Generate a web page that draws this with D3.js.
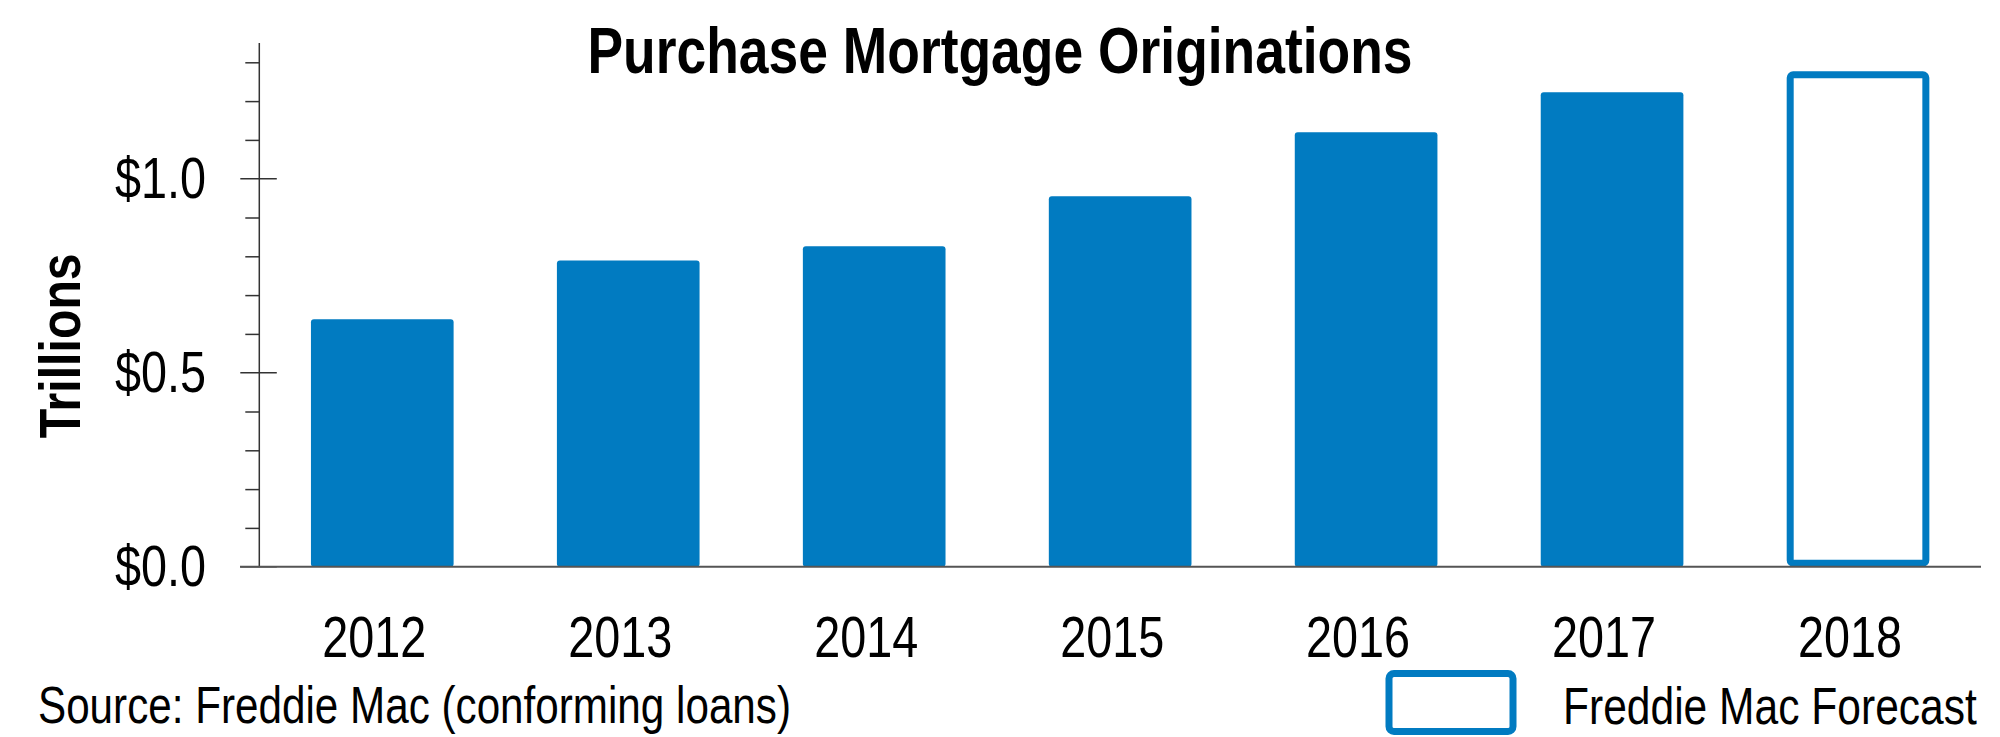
<!DOCTYPE html>
<html>
<head>
<meta charset="utf-8">
<script src="https://cdn.jsdelivr.net/npm/d3@7"></script>
<style>
  html, body { margin: 0; padding: 0; background: #fff; }
  svg { display: block; }
  text { font-family: "Liberation Sans Narrow", "Arial Narrow", "Liberation Sans", Arial, sans-serif; fill: #000; }
</style>
</head>
<body>
<svg id="chart" width="2000" height="737"></svg>
<script>
// ---- data ----
const years = ["2012", "2013", "2014", "2015", "2016", "2017", "2018"];
const values = [0.638, 0.789, 0.826, 0.955, 1.12, 1.223, 1.277];
const forecast = [false, false, false, false, false, false, true];
const minorTicks = [0.1, 0.2, 0.3, 0.4, 0.6, 0.7, 0.8, 0.9, 1.1, 1.2, 1.3];
const majorTicks = [0, 0.5, 1.0];
const majorLabels = ["$0.0", "$0.5", "$1.0"];
const title = "Purchase Mortgage Originations";
const yTitle = "Trillions";
const source = "Source: Freddie Mac (conforming loans)";
const legendLabel = "Freddie Mac Forecast";

const blue = "#017bc1";
const svg = d3.select("#chart");

function fitWidth(sel, w) {
  sel.attr("textLength", w).attr("lengthAdjust", "spacingAndGlyphs");
}

const x = d3.scaleBand().domain(years).range([259.3, 1981]).paddingInner(0.42).paddingOuter(0.21);
const y = d3.scaleLinear().domain([0, 1.35]).range([566.7, 42.9]);
const axisX = 259.3;

// bars
const data = years.map((yr, i) => ({ yr, v: values[i], f: forecast[i] }));
const sw = 7;
svg.append("g").selectAll("rect").data(data).join("rect")
  .attr("x", d => d.f ? x(d.yr) + sw / 2 : x(d.yr))
  .attr("width", d => d.f ? x.bandwidth() - sw : x.bandwidth())
  .attr("y", d => d.f ? y(d.v) + sw / 2 : y(d.v))
  .attr("height", d => d.f ? y(0) - y(d.v) - sw : y(0) - y(d.v))
  .attr("rx", 3)
  .attr("fill", d => d.f ? "#fff" : blue)
  .attr("stroke", d => d.f ? blue : "none")
  .attr("stroke-width", sw);

// y axis (minor ticks)
const minorAxis = d3.axisLeft(y).tickValues(minorTicks).tickSize(14).tickFormat("");
const gy = svg.append("g").attr("transform", `translate(${axisX},0)`).call(minorAxis);
gy.select(".domain").remove();
gy.selectAll(".tick line").attr("stroke", "#333").attr("stroke-width", 1.5);

// vertical axis line
svg.append("line")
  .attr("x1", axisX).attr("x2", axisX)
  .attr("y1", y(1.35)).attr("y2", y(0))
  .attr("stroke", "#333").attr("stroke-width", 1.5);

// major ticks (cross axis)
const gm = svg.append("g");
gm.selectAll("line").data(majorTicks).join("line")
  .attr("x1", axisX - 19).attr("x2", axisX + 17.5)
  .attr("y1", d => y(d)).attr("y2", d => y(d))
  .attr("stroke", "#333").attr("stroke-width", 1.5);
gm.selectAll("text").data(majorTicks).join("text")
  .attr("x", 206).attr("y", d => y(d) + 19)
  .attr("text-anchor", "end")
  .attr("font-size", 57)
  .text((d, i) => majorLabels[i])
  .call(fitWidth, 91);

// baseline
svg.append("line")
  .attr("x1", 240).attr("x2", 1981)
  .attr("y1", y(0)).attr("y2", y(0))
  .attr("stroke", "#555").attr("stroke-width", 2);

// x labels
const xAxis = d3.axisBottom(x).tickSize(0).tickPadding(0);
const gx = svg.append("g").attr("transform", `translate(0,${y(0)})`).call(xAxis);
gx.select(".domain").remove();
gx.selectAll(".tick text")
  .attr("y", 90).attr("dy", 0).attr("dx", -8)
  .attr("font-size", 57)
  .style("font-family", '"Liberation Sans Narrow", "Arial Narrow", "Liberation Sans", sans-serif')
  .attr("fill", "#000")
  .call(fitWidth, 104);

// title
svg.append("text")
  .attr("x", 1000).attr("y", 73.3)
  .attr("text-anchor", "middle")
  .attr("font-size", 65).attr("font-weight", "bold")
  .text(title)
  .call(fitWidth, 825);

// y title
svg.append("text")
  .attr("transform", "translate(80,345.8) rotate(-90)")
  .attr("text-anchor", "middle")
  .attr("font-size", 58).attr("font-weight", "bold")
  .text(yTitle)
  .call(fitWidth, 185);

// source
svg.append("text")
  .attr("x", 38).attr("y", 723)
  .attr("font-size", 52)
  .text(source)
  .call(fitWidth, 753);

// legend
svg.append("rect")
  .attr("x", 1389).attr("y", 673.5)
  .attr("width", 124).attr("height", 58)
  .attr("rx", 5)
  .attr("fill", "#fff").attr("stroke", blue).attr("stroke-width", 7);
const lt = svg.append("text")
  .attr("x", 0).attr("y", 0)
  .attr("font-size", 52)
  .text(legendLabel);
const natural = lt.node().getComputedTextLength();
lt.attr("transform", `translate(1563,724) scale(${414 / natural},1)`);
</script>
</body>
</html>
